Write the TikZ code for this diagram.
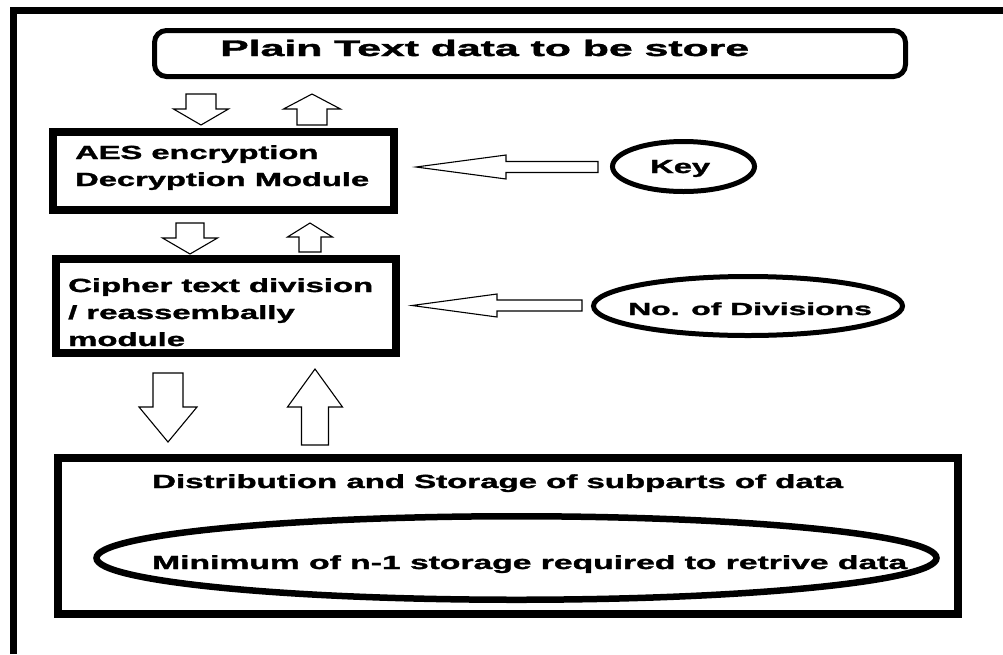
\documentclass[tikz,border=0pt]{standalone}
\usepackage{fontspec}
\setmainfont{Liberation Sans}[BoldFeatures={FakeBold=1.3}]
\usepackage{graphicx}
\usetikzlibrary{shapes.geometric}

% horizontally widened text
\newcommand\wide[2]{\scalebox{#1}[1]{#2}}

% hollow block arrows: vertical (x, tail y, head-base y, tip y, half stem, half head)
\newcommand\vblockarrow[6]{%
  \draw[blk] ({#1-#5},#2) -- ({#1-#5},#3) -- ({#1-#6},#3) -- (#1,#4)
    -- ({#1+#6},#3) -- ({#1+#5},#3) -- ({#1+#5},#2) -- cycle;}
% horizontal (y, tail x, head-base x, tip x, half stem, half head)
\newcommand\hblockarrow[6]{%
  \draw[blk] (#2,{#1-#5}) -- (#3,{#1-#5}) -- (#3,{#1-#6}) -- (#4,#1)
    -- (#3,{#1+#6}) -- (#3,{#1+#5}) -- (#2,{#1+#5}) -- cycle;}

\begin{document}
\begin{tikzpicture}[x=1pt, y=-1pt,
  frame/.style={line width=7pt},
  modbox/.style={draw, rectangle, line width=8pt, inner sep=0pt},
  oval/.style={draw, ellipse, line width=5pt, inner sep=0pt},
  blk/.style={draw=black, line width=1.1pt, fill=white, line join=miter},
  lbl/.style={inner sep=0pt, anchor=base west},
  big/.style={font=\bfseries\fontsize{19}{27}\selectfont}]

\useasboundingbox[fill=white] (0,0) rectangle (1003,654);

% outer frame (top and left sides)
\draw[frame] (13.5,654) -- (13.5,10.5) -- (1003,10.5);

% boxes and ovals
\node[draw, rectangle, rounded corners=12pt, line width=5pt, inner sep=0pt,
      minimum width=751pt, minimum height=46pt] (plain) at (530,53.5) {};
\node[modbox, minimum width=341pt, minimum height=78pt] (aes) at (223.5,171) {};
\node[modbox, minimum width=340pt, minimum height=94pt] (cipher) at (226,306) {};
\node[modbox, minimum width=900pt, minimum height=156pt] (store) at (508,536) {};
\node[oval, minimum width=142pt, minimum height=50pt] (key) at (683.5,166.5) {};
\node[oval, minimum width=309pt, minimum height=59pt] (divs) at (748,306) {};
\node[oval, line width=6.5pt, minimum width=840pt, minimum height=83.5pt] (minst) at (516.5,558) {};

% block arrows between the stages
\vblockarrow{201}{94}{109}{125}{15}{27.5}
\vblockarrow{312}{125}{109}{94}{15}{28.5}
\vblockarrow{190}{223}{238}{254}{14}{27.5}
\vblockarrow{310}{252}{237}{223}{11}{22.5}
\vblockarrow{168}{373}{407}{442}{15}{29}
\vblockarrow{315}{445}{407}{369}{13.5}{27.5}
% inputs from the ovals
\hblockarrow{167}{598}{506}{416}{5.5}{12}
\hblockarrow{305.5}{582}{497}{412}{5.5}{11.5}

% labels
\node[lbl, font=\bfseries\fontsize{22.5}{27}\selectfont] (plaintxt) at (220,56)
  {\wide{1.9}{Plain Text data to be store}};
\node[lbl, big] (aestxt) at (75,159)
  {\wide{1.719}{\begin{tabular}[t]{@{}l@{}}AES encryption\\Decryption Module\end{tabular}}};
\node[lbl, big] (ciphertxt) at (68,292)
  {\wide{1.73}{\begin{tabular}[t]{@{}l@{}}Cipher text division\\/ reassembally\\module\end{tabular}}};
\node[lbl, big] (keytxt) at (650,173) {\wide{1.72}{Key}};
\node[lbl, font=\bfseries\fontsize{17.5}{22}\selectfont] (divtxt) at (628,315)
  {\wide{1.82}{No. of Divisions}};
\node[lbl, big] (storetxt) at (152,488)
  {\wide{1.736}{Distribution and Storage of subparts of data}};
\node[lbl, big] (minsttxt) at (152,569)
  {\wide{1.77}{Minimum of n-1 storage required to retrive data}};
\end{tikzpicture}
\end{document}
